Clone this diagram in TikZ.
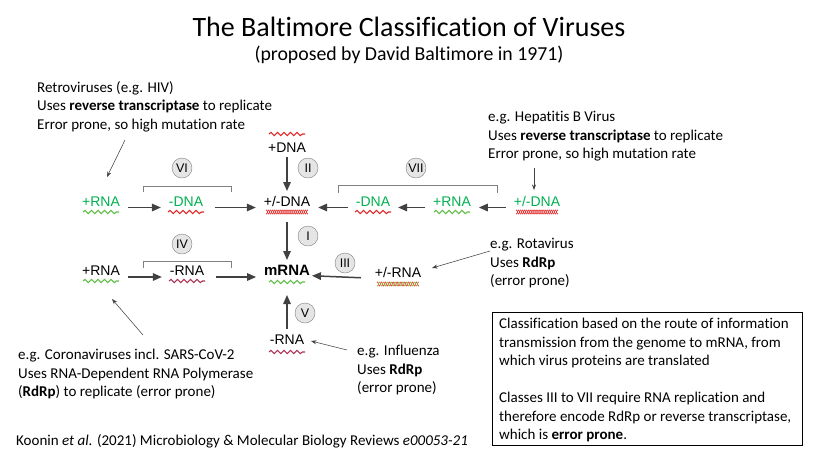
\documentclass[tikz,border=0pt]{standalone}
\usepackage{fontspec}
\setmainfont{Carlito}[Ligatures=NoCommon]
\newfontfamily\molfont{Liberation Sans}
\usetikzlibrary{arrows.meta,decorations.pathmorphing,positioning}

\definecolor{molgreen}{RGB}{0,176,80}
\definecolor{wavegreen}{RGB}{95,190,70}
\definecolor{wavered}{RGB}{225,40,40}
\definecolor{wavemaroon}{RGB}{170,50,85}
\definecolor{helixolive}{RGB}{150,165,40}
\definecolor{arrowgray}{RGB}{65,65,65}

\tikzset{
  mol/.style={font=\molfont\fontsize{14}{16}\selectfont, inner sep=0pt,
    text height=10pt, text depth=0pt, outer xsep=8pt, outer ysep=5pt},
  molg/.style={mol, text=molgreen},
  wave/.style={decorate, decoration={snake, segment length=6.5, amplitude=1.6}, line width=1.1},
  flow/.style={draw=arrowgray, line width=1.5, -{Triangle[length=9,width=7.5]}},
  note/.style={font=\fontsize{15}{18.5}\selectfont, align=left, inner sep=0pt},
  pointer/.style={draw=arrowgray, line width=0.55, -{Stealth[length=5.5,width=4]}},
  classno/.style={circle, draw=gray, fill=gray!20, minimum size=20, inner sep=0pt,
    font=\molfont\fontsize{12.5}{12.5}\selectfont},
  bracket/.style={draw=gray, line width=0.8},
}

% wavy single strand: x, y, colour
\newcommand\wavy[3]{\draw[wave,#3] (#1,#2) ++(-18,0) -- ++(36,0);}
% double strand: x, y, colour one, colour two
\newcommand\dshelix[4]{%
  \draw[#3, line width=0.55, domain=-21:21, samples=110, smooth] plot ({#1+\x},{#2+2.1*sin(\x*92)});
  \draw[#4, line width=0.55, domain=-21:21, samples=110, smooth] plot ({#1+\x},{#2-2.1*sin(\x*92)});}

\begin{document}
\begin{tikzpicture}[x=1pt, y=-1pt]
  \useasboundingbox (0,0) rectangle (813,472);

  % title
  \node (title) at (409,27) {\fontsize{28}{32}\selectfont The Baltimore Classification of Viruses};
  \node (subtitle) at (409,55) {\fontsize{19.8}{22}\selectfont (proposed by David Baltimore in 1971)};

  % molecules
  \node[molg] (rnaVI) at (101,201) {+RNA};
  \node[molg] (dnaVI) at (186,201) {-DNA};
  \node[mol] (dsdna) at (287,201) {+/-DNA};
  \node[mol] (ssdna) at (287,147) {+DNA};
  \node[molg] (dnaVII) at (373,201) {-DNA};
  \node[molg] (rnaVII) at (452,201) {+RNA};
  \node[molg] (dsdnaVII) at (537,201) {+/-DNA};
  \node[mol] (rnaIV) at (101,270) {+RNA};
  \node[mol] (rnaIVm) at (187,270) {-RNA};
  \node[mol, font=\molfont\bfseries\fontsize{15}{17}\selectfont] (mrna) at (287,270) {mRNA};
  \node[mol] (dsrna) at (398,272) {+/-RNA};
  \node[mol] (rnaV) at (287,339) {-RNA};

  \wavy{101}{212}{wavegreen}
  \wavy{186}{212}{wavered}
  \dshelix{287}{212}{wavered}{wavered}
  \wavy{287}{134}{wavered}
  \wavy{373}{212}{wavered}
  \wavy{452}{212}{wavegreen}
  \dshelix{537}{212}{wavered}{wavered}
  \wavy{101}{281}{wavegreen}
  \wavy{187}{281}{wavemaroon}
  \wavy{287}{282}{wavegreen}
  \dshelix{398}{284}{wavered}{helixolive}
  \wavy{287}{352}{wavemaroon}

  % routes to mRNA
  \draw[flow] ([yshift=-6.5pt]rnaVI.east) -- ([yshift=-6.5pt]dnaVI.west);
  \draw[flow, shorten <=4] ([yshift=-6.5pt]dnaVI.east) -- ([yshift=-6.5pt]dsdna.west);
  \draw[flow] ([yshift=-6.5pt]dsdnaVII.west) -- ([yshift=-6.5pt]rnaVII.east);
  \draw[flow] ([yshift=-6.5pt]rnaVII.west) -- ([yshift=-6.5pt]dnaVII.east);
  \draw[flow] ([yshift=-6.5pt]dnaVII.west) -- ([yshift=-6.5pt]dsdna.east);
  \draw[flow] (ssdna) -- (dsdna);
  \draw[flow, shorten <=11] (dsdna) -- (mrna);
  \draw[flow] ([yshift=-7pt]rnaIV.east) -- ([yshift=-7pt]rnaIVm.west);
  \draw[flow, shorten <=4] ([yshift=-7pt]rnaIVm.east) -- ([yshift=-7pt]mrna.west);
  \draw[flow, shorten <=6, shorten >=-6] ([yshift=-6pt]dsrna.west) -- ([yshift=-6pt]mrna.east);
  \draw[flow, shorten >=15] (rnaV) -- (mrna);

  % class numbers
  \node[classno] (cII) at (308,168) {II};
  \node[classno] (cVI) at (182,168) {VI};
  \node[classno] (cVII) at (416,168) {VII};
  \node[classno] (cI) at (308,236) {I};
  \node[classno] (cIV) at (182,244) {IV};
  \node[classno] (cIII) at (345,263) {III};
  \node[classno] (cV) at (305,313) {V};

  \draw[bracket] (143,192) -- (143,186) -- (231,186) -- (231,192);
  \draw[bracket] (338,193) -- (338,185) -- (497,185) -- (497,193);
  \draw[bracket] (143,268) -- (143,261) -- (231,261) -- (231,268);

  % notes
  \node[note, anchor=north west] (retro) at (37,81)
    {Retroviruses (e.g. HIV)\\Uses \textbf{reverse transcriptase} to replicate\\Error prone, so high mutation rate};
  \node[note, anchor=north west] (hepb) at (488,111)
    {e.g. Hepatitis B Virus\\Uses \textbf{reverse transcriptase} to replicate\\Error prone, so high mutation rate};
  \node[note, anchor=north west] (rota) at (490,238)
    {e.g. Rotavirus\\Uses \textbf{RdRp}\\(error prone)};
  \node[note, anchor=north west] (corona) at (18,349)
    {e.g. Coronaviruses incl. SARS-CoV-2\\Uses RNA-Dependent RNA Polymerase\\(\textbf{RdRp}) to replicate (error prone)};
  \node[note, anchor=north west] (flu) at (357,345)
    {e.g. Influenza\\Uses \textbf{RdRp}\\(error prone)};

  \coordinate (retroFrom) at (125,140);
  \coordinate (retroTo) at (107,177);
  \coordinate (hepbFrom) at (534,168);
  \coordinate (hepbTo) at (534,190);
  \coordinate (rotaFrom) at (490,251);
  \coordinate (rotaTo) at (432,268);
  \coordinate (coronaFrom) at (143,335);
  \coordinate (coronaTo) at (112,299);
  \coordinate (fluFrom) at (347,350);
  \coordinate (fluTo) at (311,341);
  \draw[pointer] (retroFrom) -- (retroTo);
  \draw[pointer] (hepbFrom) -- (hepbTo);
  \draw[pointer] (rotaFrom) -- (rotaTo);
  \draw[pointer] (coronaFrom) -- (coronaTo);
  \draw[pointer] (fluFrom) -- (fluTo);

  % summary box
  \draw[line width=0.9] (492,312) rectangle (802,445);
  \node[note, anchor=north west] (summary) at (499,318)
    {Classification based on the route of information\\transmission from the genome to mRNA, from\\which virus proteins are translated\\[18.5pt]Classes III to VII require RNA replication and\\therefore encode RdRp or reverse transcriptase,\\which is \textbf{error prone}.};

  % citation
  \node[note, anchor=west] (cite) at (16,441)
    {Koonin \textit{et al.} (2021) Microbiology \& Molecular Biology Reviews \textit{e00053-21}};
\end{tikzpicture}
\end{document}
